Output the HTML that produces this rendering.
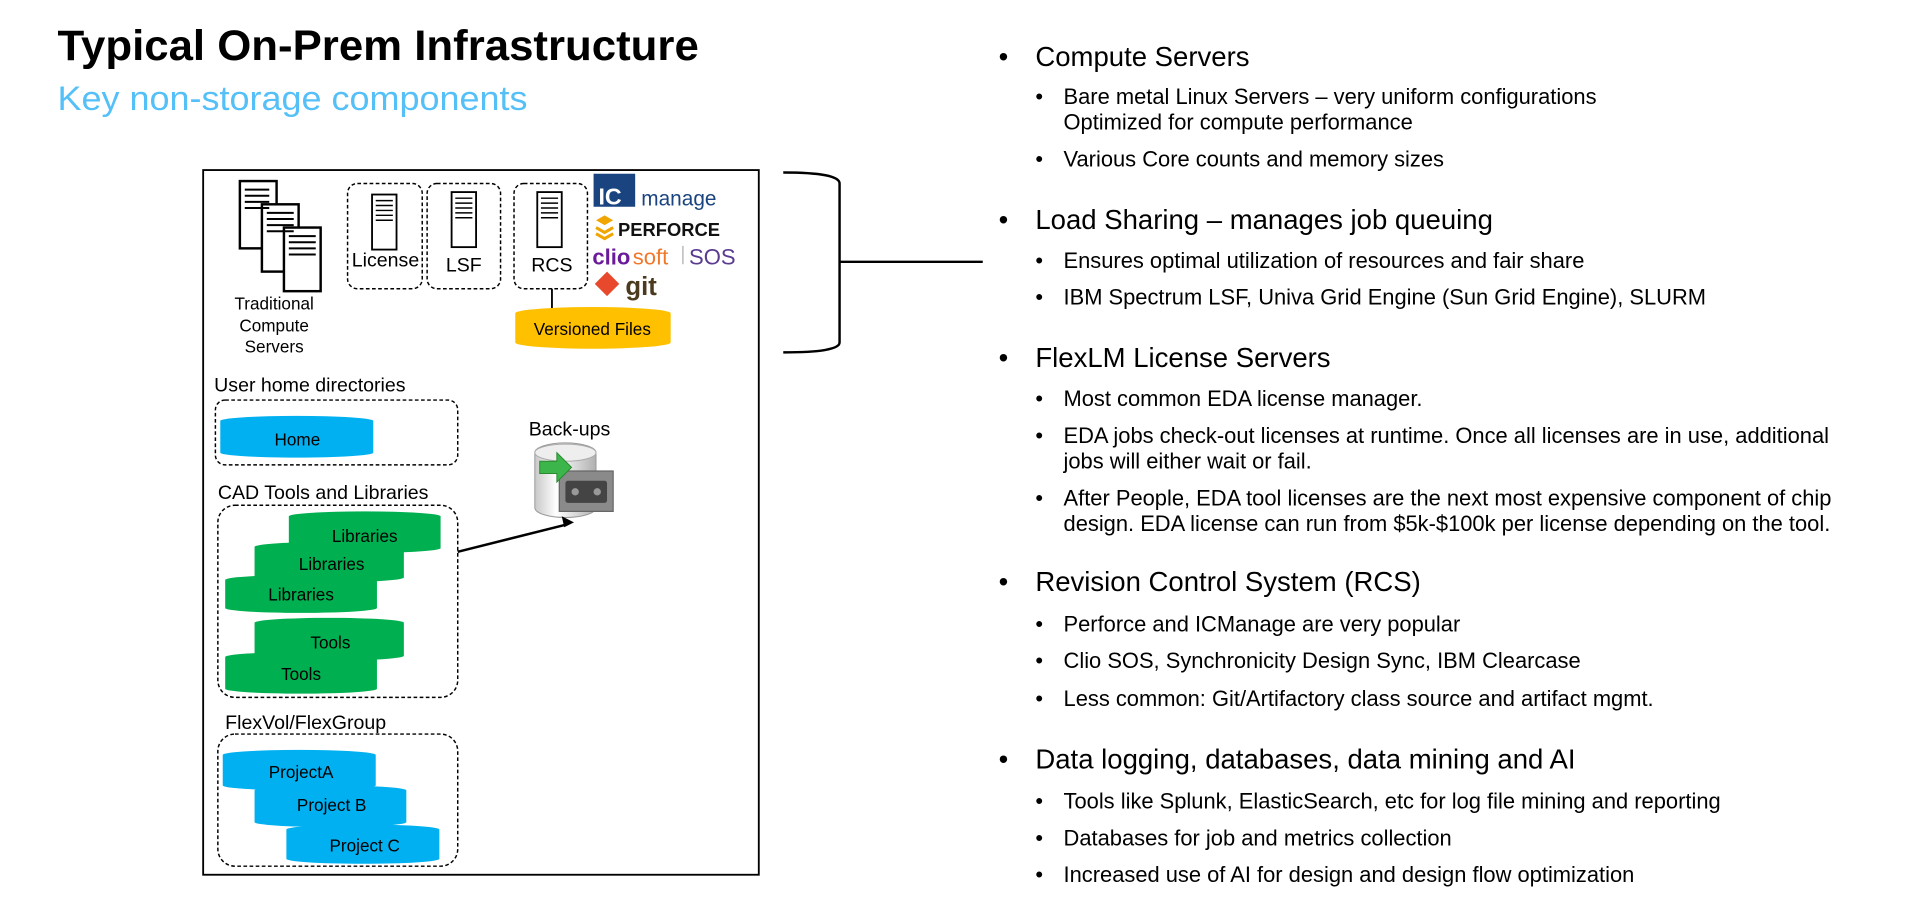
<!DOCTYPE html>
<html><head><meta charset="utf-8"><style>
html,body{margin:0;padding:0;background:#fff;width:1919px;height:909px;overflow:hidden}
svg{display:block}
text{font-family:"Liberation Sans",Arial,sans-serif}
</style></head><body>
<svg width="1919" height="909" viewBox="0 0 1568 743" preserveAspectRatio="none" xmlns="http://www.w3.org/2000/svg">
<defs>
<linearGradient id="db" x1="0" x2="1"><stop offset="0" stop-color="#c8c8c8"/><stop offset="0.35" stop-color="#ffffff"/><stop offset="1" stop-color="#b0b0b0"/></linearGradient>
</defs>
<text x="47" y="49" font-size="35" font-weight="bold" fill="#000" textLength="524" lengthAdjust="spacingAndGlyphs">Typical On-Prem Infrastructure</text>
<text x="47" y="90" font-size="28" fill="#55c0f8" textLength="384" lengthAdjust="spacingAndGlyphs">Key non-storage components</text>

<rect x="166" y="139" width="454" height="576" fill="#fff" stroke="#000" stroke-width="1.5"/>

<g fill="#fff" stroke="#000" stroke-width="2">
<rect x="196" y="148" width="30" height="55"/>
<rect x="214" y="167" width="30" height="55"/>
<rect x="232" y="186" width="30" height="52"/>
</g>
<g stroke="#000" stroke-width="1.6">
<path d="M200 155h20M200 160h20M200 165h20M200 170h20"/>
<path d="M218 174h22M218 179h22M218 184h22M218 189h22"/>
<path d="M236 193h22M236 198h22M236 203h22M236 208h22"/>
</g>
<g font-size="14" text-anchor="middle" fill="#000">
<text x="224" y="253">Traditional</text><text x="224" y="271">Compute</text><text x="224" y="288">Servers</text>
</g>

<g fill="none" stroke="#000" stroke-width="1.2" stroke-dasharray="3,2">
<rect x="284" y="150" width="61" height="86" rx="8"/>
<rect x="349" y="150" width="60" height="86" rx="8"/>
<rect x="420" y="150" width="60" height="86" rx="8"/>
</g>
<g fill="#fff" stroke="#000" stroke-width="1.5">
<rect x="304" y="159" width="20" height="45"/>
<rect x="369" y="157" width="20" height="45"/>
<rect x="439" y="157" width="20" height="45"/>
</g>
<g stroke="#000" stroke-width="1.2">
<path d="M307 164h14M307 168h14M307 172h14M307 176h14M307 180h14"/>
<path d="M372 162h14M372 166h14M372 170h14M372 174h14M372 178h14"/>
<path d="M442 162h14M442 166h14M442 170h14M442 174h14M442 178h14"/>
</g>
<g font-size="16" text-anchor="middle" fill="#000">
<text x="315" y="218">License</text><text x="379" y="222">LSF</text><text x="451" y="222">RCS</text>
</g>
<line x1="451" y1="236" x2="451" y2="252" stroke="#000" stroke-width="1.5"/>
<path d="M421 256 A63 5 0 0 1 548 256 V280 A63 5 0 0 1 421 280 Z" fill="#ffc000"/>
<text x="484" y="274" font-size="14" text-anchor="middle">Versioned Files</text>

<rect x="485" y="142" width="34" height="27" fill="#1a4480"/>
<text x="489" y="167" font-size="19" font-weight="bold" fill="#fff">IC</text>
<text x="524" y="168" font-size="17" fill="#1a4480">manage</text>
<path d="M487 180l7-4 7 4-7 4z" fill="#f0a500"/><path d="M487 186l7 4 7-4M487 191l7 4 7-4" stroke="#f0a500" stroke-width="2.5" fill="none"/>
<text x="505" y="193" font-size="15" font-weight="bold" fill="#111">PERFORCE</text>
<text x="484" y="216" font-size="18" font-weight="bold" fill="#6a1b9a">clio</text>
<text x="517" y="216" font-size="18" fill="#f0782a">soft</text>
<line x1="558" y1="201" x2="558" y2="216" stroke="#aaa" stroke-width="1"/>
<text x="563" y="216" font-size="18" fill="#5a3a8f">SOS</text>
<path d="M496 222l10 10-10 10-10-10z" fill="#e8492c"/>
<text x="511" y="241" font-size="21" font-weight="bold" fill="#4b3a1e">git</text>

<path d="M640 141 Q686 141 686 150 V280 Q686 288 640 288" fill="none" stroke="#000" stroke-width="2"/>
<line x1="686" y1="214" x2="803" y2="214" stroke="#000" stroke-width="2"/>

<text x="175" y="320" font-size="16">User home directories</text>
<rect x="176" y="327" width="198" height="53" rx="8" fill="none" stroke="#000" stroke-width="1.2" stroke-dasharray="3,2"/>
<path d="M180 344 A62 4 0 0 1 305 344 V370 A62 4 0 0 1 180 370 Z" fill="#00b0f0"/>
<text x="243" y="364" font-size="14" text-anchor="middle">Home</text>

<text x="432" y="356" font-size="16">Back-ups</text>
<path d="M437 370 A25 8 0 0 1 487 370 V415 A25 8 0 0 1 437 415 Z" fill="url(#db)" stroke="#999" stroke-width="0.8"/>
<ellipse cx="462" cy="370" rx="25" ry="7" fill="#eee" stroke="#aaa" stroke-width="0.8"/>
<rect x="457" y="385" width="44" height="33" fill="#8a8a8a" stroke="#666"/>
<rect x="462" y="393" width="34" height="18" rx="2" fill="#444"/>
<circle cx="470" cy="402" r="3" fill="#999"/><circle cx="488" cy="402" r="3" fill="#999"/>
<path d="M441 377h14v-7l12 12-12 12v-7h-14z" fill="#3cb54a" stroke="#2a8a30" stroke-width="0.8"/>

<text x="178" y="408" font-size="16">CAD Tools and Libraries</text>
<rect x="178" y="413" width="196" height="157" rx="14" fill="none" stroke="#000" stroke-width="1.2" stroke-dasharray="3,2"/>
<g fill="#00b050">
<path d="M236 422 A62 4 0 0 1 360 422 V448 A62 4 0 0 1 236 448 Z"/>
<path d="M208 447 A61 4 0 0 1 330 447 V472 A61 4 0 0 1 208 472 Z"/>
<path d="M184 474 A62 4 0 0 1 308 474 V497 A62 4 0 0 1 184 497 Z"/>
<path d="M208 509 A61 4 0 0 1 330 509 V536 A61 4 0 0 1 208 536 Z"/>
<path d="M184 537 A62 4 0 0 1 308 537 V563 A62 4 0 0 1 184 563 Z"/>
</g>
<g font-size="14" text-anchor="middle">
<text x="298" y="443">Libraries</text><text x="271" y="466">Libraries</text><text x="246" y="491">Libraries</text>
<text x="270" y="530">Tools</text><text x="246" y="556">Tools</text>
</g>
<line x1="374" y1="451" x2="462" y2="429" stroke="#000" stroke-width="2"/>
<path d="M469 427 l-10 -5 2 9 z" fill="#000"/>

<text x="184" y="596" font-size="16">FlexVol/FlexGroup</text>
<rect x="178" y="600" width="196" height="108" rx="14" fill="none" stroke="#000" stroke-width="1.2" stroke-dasharray="3,2"/>
<g fill="#00b0f0">
<path d="M182 617 A62 4 0 0 1 307 617 V642 A62 4 0 0 1 182 642 Z"/>
<path d="M208 646 A62 4 0 0 1 332 646 V672 A62 4 0 0 1 208 672 Z"/>
<path d="M234 678 A62 4 0 0 1 359 678 V702 A62 4 0 0 1 234 702 Z"/>
</g>
<g font-size="14" text-anchor="middle">
<text x="246" y="636">ProjectA</text><text x="271" y="663">Project B</text><text x="298" y="696">Project C</text>
</g>

<g font-size="22.5" fill="#000">
<text x="816" y="54">•</text><text x="846" y="54">Compute Servers</text>
<text x="816" y="187">•</text><text x="846" y="187">Load Sharing – manages job queuing</text>
<text x="816" y="300">•</text><text x="846" y="300">FlexLM License Servers</text>
<text x="816" y="483">•</text><text x="846" y="483">Revision Control System (RCS)</text>
<text x="816" y="628">•</text><text x="846" y="628">Data logging, databases, data mining and AI</text>
</g>
<g font-size="17.9" fill="#000">
<text x="846" y="85">•</text><text x="869" y="85">Bare metal Linux Servers – very uniform configurations</text>
<text x="869" y="106">Optimized for compute performance</text>
<text x="846" y="136">•</text><text x="869" y="136">Various Core counts and memory sizes</text>
<text x="846" y="219">•</text><text x="869" y="219">Ensures optimal utilization of resources and fair share</text>
<text x="846" y="249">•</text><text x="869" y="249">IBM Spectrum LSF, Univa Grid Engine (Sun Grid Engine), SLURM</text>
<text x="846" y="332">•</text><text x="869" y="332">Most common EDA license manager.</text>
<text x="846" y="362">•</text><text x="869" y="362">EDA jobs check-out licenses at runtime.  Once all licenses are in use, additional</text>
<text x="869" y="383">jobs will either wait or fail.</text>
<text x="846" y="413">•</text><text x="869" y="413">After People, EDA tool licenses are the next most expensive component of chip</text>
<text x="869" y="434">design.  EDA license can run from $5k-$100k per license depending on the tool.</text>
<text x="846" y="516">•</text><text x="869" y="516">Perforce and ICManage are very popular</text>
<text x="846" y="546">•</text><text x="869" y="546">Clio SOS, Synchronicity Design Sync, IBM Clearcase</text>
<text x="846" y="577">•</text><text x="869" y="577">Less common: Git/Artifactory class source and artifact mgmt.</text>
<text x="846" y="661">•</text><text x="869" y="661">Tools like Splunk, ElasticSearch, etc for log file mining and reporting</text>
<text x="846" y="691">•</text><text x="869" y="691">Databases for job and metrics collection</text>
<text x="846" y="721">•</text><text x="869" y="721">Increased use of AI for design and design flow optimization</text>
</g>
</svg>
</body></html>
